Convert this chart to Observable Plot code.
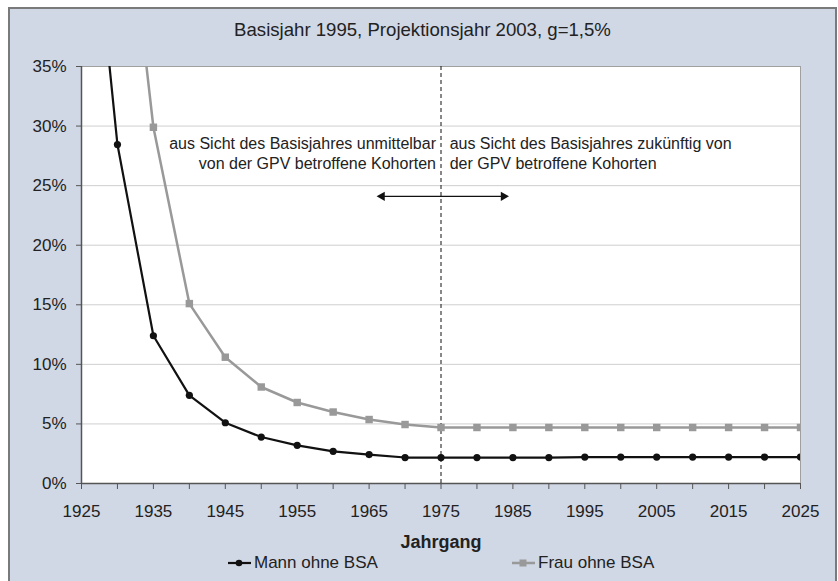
<!DOCTYPE html>
<html>
<head>
<meta charset="utf-8">
<script src="https://cdn.jsdelivr.net/npm/d3@7"></script>
<script src="https://cdn.jsdelivr.net/npm/@observablehq/plot@0.6"></script>
<style>
  body { margin: 0; background: #fff; }
  #wrap { position: relative; width: 838px; height: 581px; overflow: hidden; font-family: "Liberation Sans", Arial, sans-serif; color: #222; }
  #box { position: absolute; left: 8px; top: 7px; width: 825px; height: 590px; border: 2px solid #7a7a7a; background: #d0d7e5; }
  #title { position: absolute; left: 8px; width: 829px; top: 19px; text-align: center; font-family: "Liberation Sans", Arial, sans-serif; font-size: 18.6px; color: #222; }
  #chart { position: absolute; left: 0; top: 0; }
  #legend { position: absolute; top: 553px; left: 0; width: 838px; height: 22px; font-size: 17px; }
  .item { position: absolute; display: flex; align-items: center; gap: 2px; }
  g[aria-label="x-axis label"] text { font-weight: bold; font-size: 18px; }
</style>
</head>
<body>
<div id="wrap">
  <div id="box"></div>
  <div id="title">Basisjahr 1995, Projektionsjahr 2003, g=1,5%</div>
  <div id="chart"></div>
  <div id="legend"></div>
</div>
<script>
// Data
const years = [1925,1930,1935,1940,1945,1950,1955,1960,1965,1970,1975,1980,1985,1990,1995,2000,2005,2010,2015,2020,2025];
const mann  = [58.2,28.45,12.4,7.4,5.1,3.9,3.2,2.7,2.43,2.18,2.18,2.18,2.18,2.18,2.22,2.22,2.22,2.22,2.22,2.22,2.22];
const frauYears = [1930,1935,1940,1945,1950,1955,1960,1965,1970,1975,1980,1985,1990,1995,2000,2005,2010,2015,2020,2025];
const frau  = [56.4,29.9,15.1,10.6,8.1,6.8,6.0,5.37,4.95,4.7,4.7,4.7,4.7,4.7,4.7,4.7,4.7,4.7,4.7,4.7];
const seriesNames = ["Mann ohne BSA", "Frau ohne BSA"];
const xLabelTicks = [1925,1935,1945,1955,1965,1975,1985,1995,2005,2015,2025];
const xMinorTicks = d3.range(1925, 2026, 5);
const yTicks = [0,5,10,15,20,25,30,35];
const splitYear = [1975];
const noteLeft = ["aus Sicht des Basisjahres unmittelbar\nvon der GPV betroffene Kohorten"];
const noteRight = ["aus Sicht des Basisjahres zukünftig von\nder GPV betroffene Kohorten"];
const noteLeftX = [1974.3], noteRightX = [1976.2], noteY = [27.75];
const arrowFrom = [1975, 1975], arrowTo = [1966.8, 1983.7], arrowY = [24.1, 24.1];

const mannData = years.map((y, i) => ({year: y, v: mann[i]}));
const frauData = frauYears.map((y, i) => ({year: y, v: frau[i]}));
const arrows = arrowFrom.map((a, i) => ({x1: a, x2: arrowTo[i], y: arrowY[i], rot: arrowTo[i] < a ? -90 : 90}));

const chart = Plot.plot({
  width: 838, height: 560,
  marginLeft: 81, marginRight: 38, marginTop: 66, marginBottom: 77,
  style: {background: "transparent", fontFamily: "Liberation Sans, Arial, sans-serif", fontSize: "17px", color: "#222"},
  x: {domain: [1925, 2025]},
  y: {domain: [0, 35]},
  marks: [
    Plot.frame({fill: "white", stroke: "#a0a0a0"}),
    Plot.ruleY(yTicks.slice(1, -1), {stroke: "#cfcfcf", strokeWidth: 1}),
    Plot.axisY({ticks: yTicks, tickFormat: d => d + "%", tickSize: 5, tickPadding: 10, stroke: "#555", label: null, fontSize: 17}),
    Plot.axisX({ticks: xMinorTicks, tickSize: 6, tickFormat: () => "", stroke: "#555", label: null}),
    Plot.axisX({ticks: xLabelTicks, tickSize: 0, tickPadding: 21, tickFormat: d => String(d), label: "Jahrgang", labelAnchor: "center", labelOffset: 64, labelArrow: "none", fontSize: 17}),
    Plot.ruleX([1925], {stroke: "#555", strokeWidth: 1.5}),
    Plot.ruleY([0], {stroke: "#555", strokeWidth: 1.5}),
    Plot.ruleX(splitYear, {stroke: "#111", strokeDasharray: "4,3", strokeWidth: 1}),
    Plot.text(noteLeft, {x: noteLeftX, y: noteY, textAnchor: "end", lineHeight: 1.25, fontSize: 16, fill: "#222"}),
    Plot.text(noteRight, {x: noteRightX, y: noteY, textAnchor: "start", lineHeight: 1.25, fontSize: 16, fill: "#222"}),
    Plot.link(arrows, {x1: "x1", x2: "x2", y1: "y", y2: "y", stroke: "#111", strokeWidth: 1.3}),
    Plot.dot(arrows, {x: "x2", y: "y", symbol: "triangle2", rotate: "rot", r: 4.5, fill: "#111"}),
    Plot.line(frauData, {x: "year", y: "v", stroke: "#999", strokeWidth: 2.5, clip: true}),
    Plot.dot(frauData, {x: "year", y: "v", symbol: "square", r: 4.2, fill: "#999", clip: true}),
    Plot.line(mannData, {x: "year", y: "v", stroke: "#111", strokeWidth: 2.2, clip: true}),
    Plot.dot(mannData, {x: "year", y: "v", r: 3.6, fill: "#111", clip: true})
  ]
});
document.getElementById("chart").appendChild(chart);

// Legend
const legend = document.getElementById("legend");
const legendStyles = [
  {left: 227, color: "#111", width: 2.2, shape: "circle"},
  {left: 511, color: "#999", width: 2.5, shape: "square"}
];
seriesNames.forEach((name, i) => {
  const s = legendStyles[i];
  const item = document.createElement("div");
  item.className = "item";
  item.style.left = s.left + "px";
  const marker = s.shape === "circle"
    ? `<circle cx="12" cy="10" r="3.3" fill="${s.color}"/>`
    : `<rect x="8.5" y="6.5" width="7" height="7" fill="${s.color}"/>`;
  item.innerHTML = `<svg width="25" height="20"><line x1="1" x2="24" y1="10" y2="10" stroke="${s.color}" stroke-width="${s.width}"/>${marker}</svg><span>${name}</span>`;
  legend.appendChild(item);
});
</script>
</body>
</html>
